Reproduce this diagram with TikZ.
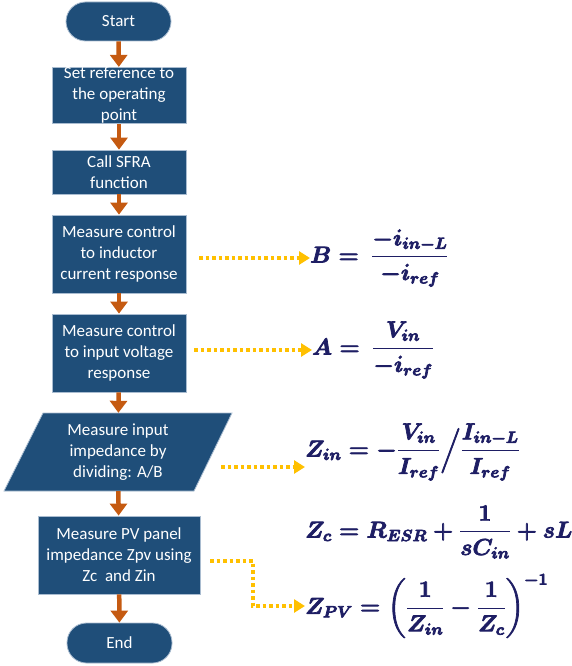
\RequirePackage{fix-cm}
\documentclass[tikz,border=0pt]{standalone}
\usepackage{amsmath}
\usepackage{fontspec}
\setmainfont{Carlito}
\usetikzlibrary{arrows.meta}
\definecolor{boxblue}{HTML}{1F4E79}
\definecolor{boxline}{HTML}{A9BCD0}
\definecolor{flowor}{HTML}{C55A11}
\definecolor{dotyel}{HTML}{FFC000}
\definecolor{eqnavy}{HTML}{1E1E64}
\newcommand{\fkbold}{\special{pdf:literal direct 2 Tr 0.7 w}}
\newcommand{\fkboldoff}{\special{pdf:literal direct 0 Tr}}
\tikzset{
  stepbox/.style={draw=boxline, line width=0.8pt, fill=boxblue, text=white, align=center,
    font=\fontsize{17}{21}\selectfont, inner sep=0pt},
  termbox/.style={stepbox, rounded corners=19.5pt},
  flowarrow/.style={draw=flowor, line width=4.5pt, -{Triangle[length=12pt,width=17pt]}},
  dotarrow/.style={draw=dotyel, line width=3.8pt, dash pattern=on 3.5pt off 3pt,
    -{Triangle[length=11pt,width=13pt]}},
  eqn/.style={text=eqnavy, anchor=west, inner sep=0pt, font=\fontsize{23}{28}\selectfont\boldmath}
}
\begin{document}
\begin{tikzpicture}[x=1pt,y=-1pt]
\useasboundingbox (0,0) rectangle (572,666);
\node[termbox, minimum width=105pt, minimum height=39pt] (start) at (118.5,21.5) {Start};
\node[stepbox, minimum width=134pt, minimum height=55pt] (setref) at (119,95.5) {Set reference to\\the operating\\point};
\node[stepbox, minimum width=134pt, minimum height=44pt] (sfra) at (119,172) {Call SFRA\\function};
\node[stepbox, minimum width=134pt, minimum height=78pt] (mb) at (119,254) {Measure control\\to inductor\\current response};
\node[stepbox, minimum width=134pt, minimum height=78pt] (ma) at (119,353) {Measure control\\to input voltage\\response};
\fill[boxblue, draw=boxline, line width=0.8pt] (43,413) -- (232,413) -- (194,491) -- (4,491) -- cycle;
\node[align=center, text=white, font=\fontsize{17}{21}\selectfont, minimum width=150pt, minimum height=78pt, inner sep=0pt] (zin) at (118,452) {Measure input\\impedance by\\dividing: A/B};
\node[stepbox, minimum width=162pt, minimum height=78pt] (pv) at (119,555) {Measure PV panel\\impedance Zpv using\\Zc\ \ and Zin};
\node[termbox, minimum width=105pt, minimum height=40pt] (end) at (119.5,643) {End};

\draw[flowarrow] (start) -- (setref);
\draw[flowarrow] (setref) -- (sfra);
\draw[flowarrow] (sfra) -- (mb);
\draw[flowarrow] (mb) -- (ma);
\draw[flowarrow] (ma) -- (zin);
\draw[flowarrow] (zin) -- (pv);
\draw[flowarrow] (pv) -- (end);

\node[eqn] (eqb) at (310,258) {\fkbold$B = \ \dfrac{-i_{in-L}}{-i_{ref}}$\fkboldoff};
\node[eqn] (eqa) at (312,350) {\fkbold$A = \ \dfrac{V_{in}}{-i_{ref}}$\fkboldoff};
\node[eqn] (eqzin) at (305,452) {\fkbold$Z_{in} = -\dfrac{V_{in}}{I_{ref}}\Big/\dfrac{I_{in-L}}{I_{ref}}$\fkboldoff};
\node[eqn] (eqzc) at (305,532) {\fkbold$Z_c = R_{ESR} + \dfrac{1}{sC_{in}} + sL$\fkboldoff};
\node[eqn] (eqzpv) at (305,606) {\fkbold$Z_{PV} = \left(\dfrac{1}{Z_{in}} - \dfrac{1}{Z_c}\right)^{-1}$\fkboldoff};

\coordinate (bs) at (199,258);
\coordinate (as) at (194,350);
\coordinate (zs) at (221,467);
\coordinate (ps) at (210,561);
\coordinate (pc) at (253,561);
\draw[dotarrow] (bs) -- (eqb.west);
\draw[dotarrow] (as) -- (eqa.west);
\draw[dotarrow] (zs) -- (eqzin.west |- zs);
\draw[dotarrow] (ps) -- (pc) |- (eqzpv.west);
\end{tikzpicture}
\end{document}
